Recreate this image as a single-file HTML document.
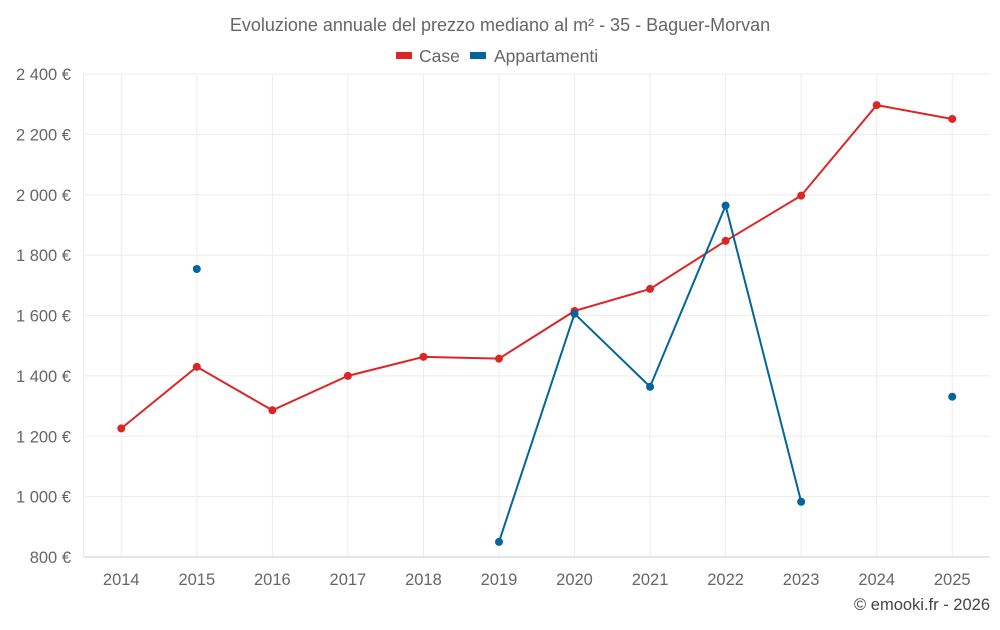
<!DOCTYPE html>
<html><head><meta charset="utf-8"><style>
body{margin:0;background:#fff;font-family:"Liberation Sans",sans-serif;}
svg text{font-family:"Liberation Sans",sans-serif;fill:#666;}
</style></head><body>
<svg id="chart" width="1000" height="625" xmlns="http://www.w3.org/2000/svg">
<text x="500" y="31" text-anchor="middle" font-size="18">Evoluzione annuale del prezzo mediano al m² - 35 - Baguer-Morvan</text>
<g>
<g><rect x="396" y="52" width="16" height="7" fill="#dc2626"/><text x="419" y="62" font-size="17.5">Case</text></g>
<g><rect x="470" y="52" width="16" height="7" fill="#02659b"/><text x="494" y="62" font-size="17.5">Appartamenti</text></g>
</g>
<g id="grid"></g>
<g id="axes"></g>
<g id="series"></g>
<text x="990" y="610" text-anchor="end" font-size="16.5" style="fill:#444">© emooki.fr - 2026</text>
</svg>
<script>
const years=[2014,2015,2016,2017,2018,2019,2020,2021,2022,2023,2024,2025];
const caseValues=[1226,1430,1286,1400,1463,1457,1615,1688,1847,1997,2297,2251];
const apptValues=[null,1754,null,null,null,850,1606,1364,1964,983,null,1331];
const yTicks=[800,1000,1200,1400,1600,1800,2000,2200,2400];
const yTickLabels=["800 €","1 000 €","1 200 €","1 400 €","1 600 €","1 800 €","2 000 €","2 200 €","2 400 €"];
const L=83.5,R=990,T=74,B=557,yMin=800,yMax=2400;
const bw=(R-L)/years.length;
const xs=i=>L+bw*(i+0.5);
const ys=v=>B-(v-yMin)/(yMax-yMin)*(B-T);
const NS="http://www.w3.org/2000/svg";
function mk(tag,attrs,parent){const e=document.createElementNS(NS,tag);for(const k in attrs)e.setAttribute(k,attrs[k]);parent.appendChild(e);return e;}
const grid=document.getElementById('grid'),axes=document.getElementById('axes'),series=document.getElementById('series');
yTicks.forEach((t,i)=>{
 const ln=mk('line',{x1:L,x2:R,y1:ys(t),y2:ys(t),stroke:'#ececec','stroke-width':1},grid);
 
 
 const tx=mk('text',{x:71,y:ys(t)+6,'text-anchor':'end','font-size':16.5},axes);
 tx.textContent=yTickLabels[i];
 
 
});
years.forEach((y,i)=>{
 const ln=mk('line',{x1:xs(i),x2:xs(i),y1:T,y2:B,stroke:'#ececec','stroke-width':1},grid);
 
 
 const tx=mk('text',{x:xs(i),y:585,'text-anchor':'middle','font-size':16.5},axes);
 tx.textContent=y;
 
 
});
const lv=mk('line',{x1:L,x2:L,y1:T,y2:B,stroke:'#ececec'},grid);


const ax=mk('line',{x1:L,x2:R,y1:B,y2:B,stroke:'#ccc'},axes);


function draw(vals,color,name){
 let segs=[],cur=[];
 vals.forEach((v,i)=>{if(v==null){if(cur.length)segs.push(cur);cur=[];}else cur.push([xs(i),ys(v)]);});
 if(cur.length)segs.push(cur);
 segs.forEach(s=>{if(s.length>1){
  const p=mk('polyline',{points:s.map(p=>p.join(',')).join(' '),fill:'none',stroke:color,'stroke-width':2},series);
  
  }});
 vals.forEach((v,i)=>{if(v==null)return;
  const c=mk('circle',{cx:xs(i),cy:ys(v),r:4,fill:color},series);
  
  });
}
draw(caseValues,'#dc2626','case');
draw(apptValues,'#02659b','appartamenti');
</script>
</body></html>
